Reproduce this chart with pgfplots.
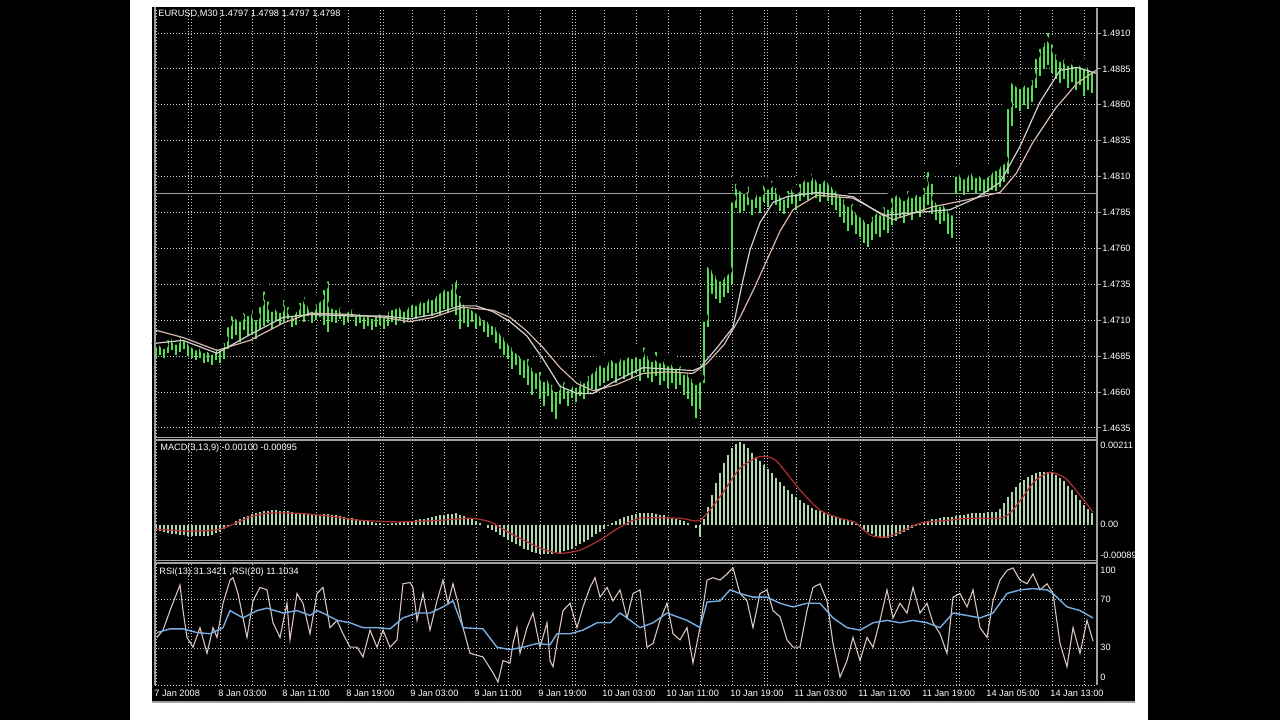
\documentclass[border=0pt]{standalone}
\usepackage{pgfplots}
\pgfplotsset{compat=1.18}
\usepackage{pgfplotstable}
\usepackage{fontspec}
\setmainfont{Liberation Sans}
\definecolor{barc}{HTML}{52E052}
\definecolor{mafast}{HTML}{D0D0D0}
\definecolor{maslow}{HTML}{D8B8A8}
\definecolor{histc}{HTML}{B0D8B0}
\definecolor{sigc}{HTML}{B03030}
\definecolor{rsic}{HTML}{D8C4BC}
\definecolor{rsib}{HTML}{78AEE6}
\definecolor{gridc}{HTML}{C8C8C8}
\definecolor{borderc}{HTML}{A0A0A0}

\pgfplotstableread{
i l h
0 1.4683 1.4694
1 1.4686 1.4697
2 1.4684 1.4693
3 1.4687 1.4699
4 1.4689 1.4700
5 1.4686 1.4696
6 1.4688 1.4702
7 1.4690 1.4699
8 1.4685 1.4697
9 1.4684 1.4694
10 1.4682 1.4692
11 1.4684 1.4695
12 1.4680 1.4690
13 1.4681 1.4691
14 1.4679 1.4689
15 1.4682 1.4693
16 1.4680 1.4692
17 1.4683 1.4697
18 1.4690 1.4708
19 1.4697 1.4716
20 1.4700 1.4714
21 1.4695 1.4712
22 1.4703 1.4718
23 1.4699 1.4716
24 1.4701 1.4720
25 1.4697 1.4713
26 1.4704 1.4722
27 1.4706 1.4733
28 1.4708 1.4726
29 1.4704 1.4719
30 1.4710 1.4722
31 1.4707 1.4718
32 1.4709 1.4727
33 1.4711 1.4722
34 1.4705 1.4716
35 1.4707 1.4719
36 1.4712 1.4725
37 1.4709 1.4729
38 1.4713 1.4723
39 1.4708 1.4719
40 1.4710 1.4724
41 1.4712 1.4726
42 1.4707 1.4734
43 1.4702 1.4740
44 1.4709 1.4721
45 1.4708 1.4720
46 1.4711 1.4722
47 1.4707 1.4717
48 1.4709 1.4719
49 1.4712 1.4721
50 1.4706 1.4716
51 1.4708 1.4718
52 1.4704 1.4715
53 1.4706 1.4717
54 1.4703 1.4714
55 1.4705 1.4716
56 1.4707 1.4718
57 1.4704 1.4715
58 1.4706 1.4719
59 1.4709 1.4720
60 1.4707 1.4721
61 1.4710 1.4722
62 1.4708 1.4719
63 1.4710 1.4722
64 1.4712 1.4724
65 1.4711 1.4723
66 1.4714 1.4726
67 1.4712 1.4725
68 1.4715 1.4728
69 1.4713 1.4727
70 1.4716 1.4730
71 1.4714 1.4732
72 1.4718 1.4735
73 1.4716 1.4733
74 1.4719 1.4738
75 1.4714 1.4741
76 1.4704 1.4730
77 1.4708 1.4724
78 1.4705 1.4721
79 1.4709 1.4720
80 1.4704 1.4718
81 1.4706 1.4716
82 1.4702 1.4713
83 1.4698 1.4712
84 1.4700 1.4709
85 1.4694 1.4708
86 1.4690 1.4704
87 1.4686 1.4701
88 1.4683 1.4697
89 1.4676 1.4694
90 1.4679 1.4690
91 1.4672 1.4688
92 1.4670 1.4685
93 1.4665 1.4686
94 1.4658 1.4680
95 1.4662 1.4676
96 1.4655 1.4677
97 1.4650 1.4670
98 1.4657 1.4672
99 1.4646 1.4668
100 1.4641 1.4663
101 1.4652 1.4668
102 1.4655 1.4670
103 1.4650 1.4664
104 1.4656 1.4668
105 1.4653 1.4666
106 1.4657 1.4671
107 1.4655 1.4669
108 1.4659 1.4674
109 1.4662 1.4676
110 1.4660 1.4680
111 1.4664 1.4683
112 1.4666 1.4680
113 1.4668 1.4684
114 1.4670 1.4686
115 1.4666 1.4683
116 1.4671 1.4687
117 1.4669 1.4685
118 1.4672 1.4689
119 1.4670 1.4686
120 1.4673 1.4690
121 1.4668 1.4686
122 1.4674 1.4694
123 1.4670 1.4688
124 1.4667 1.4684
125 1.4671 1.4691
126 1.4665 1.4683
127 1.4668 1.4686
128 1.4663 1.4681
129 1.4666 1.4684
130 1.4662 1.4679
131 1.4665 1.4681
132 1.4658 1.4675
133 1.4655 1.4676
134 1.4650 1.4672
135 1.4642 1.4668
136 1.4648 1.4670
137 1.4666 1.4712
138 1.4705 1.4750
139 1.4728 1.4748
140 1.4725 1.4744
141 1.4722 1.4740
142 1.4726 1.4743
143 1.4729 1.4745
144 1.4735 1.4795
145 1.4788 1.4808
146 1.4785 1.4803
147 1.4786 1.4801
148 1.4790 1.4806
149 1.4783 1.4797
150 1.4788 1.4802
151 1.4785 1.4799
152 1.4792 1.4807
153 1.4789 1.4804
154 1.4794 1.4810
155 1.4790 1.4805
156 1.4786 1.4800
157 1.4784 1.4797
158 1.4788 1.4803
159 1.4791 1.4806
160 1.4787 1.4801
161 1.4793 1.4808
162 1.4796 1.4813
163 1.4794 1.4809
164 1.4797 1.4815
165 1.4795 1.4811
166 1.4792 1.4808
167 1.4796 1.4812
168 1.4793 1.4809
169 1.4790 1.4806
170 1.4787 1.4803
171 1.4782 1.4800
172 1.4778 1.4797
173 1.4772 1.4792
174 1.4776 1.4794
175 1.4770 1.4788
176 1.4768 1.4785
177 1.4764 1.4783
178 1.4761 1.4780
179 1.4766 1.4785
180 1.4770 1.4789
181 1.4768 1.4786
182 1.4773 1.4792
183 1.4771 1.4790
184 1.4776 1.4798
185 1.4779 1.4800
186 1.4781 1.4799
187 1.4778 1.4796
188 1.4783 1.4803
189 1.4780 1.4798
190 1.4785 1.4802
191 1.4782 1.4799
192 1.4786 1.4805
193 1.4790 1.4816
194 1.4784 1.4808
195 1.4780 1.4795
196 1.4777 1.4792
197 1.4779 1.4794
198 1.4770 1.4790
199 1.4767 1.4786
200 1.4798 1.4813
201 1.4800 1.4815
202 1.4797 1.4811
203 1.4799 1.4814
204 1.4801 1.4816
205 1.4798 1.4812
206 1.4800 1.4814
207 1.4797 1.4811
208 1.4799 1.4813
209 1.4801 1.4816
210 1.4800 1.4817
211 1.4803 1.4820
212 1.4806 1.4822
213 1.4812 1.4860
214 1.4845 1.4878
215 1.4858 1.4876
216 1.4856 1.4874
217 1.4860 1.4879
218 1.4857 1.4875
219 1.4862 1.4880
220 1.4872 1.4895
221 1.4880 1.4902
222 1.4885 1.4906
223 1.4888 1.4913
224 1.4882 1.4905
225 1.4878 1.4898
226 1.4875 1.4893
227 1.4878 1.4895
228 1.4872 1.4890
229 1.4876 1.4894
230 1.4870 1.4889
231 1.4874 1.4893
232 1.4866 1.4888
233 1.4870 1.4890
234 1.4868 1.4886
}\bars

\pgfplotstableread{
i p
0 1.4694
6.75 1.4696
15.25 1.4687
23.5 1.4700
31.75 1.4712
38.5 1.4714
48.5 1.4713
56.75 1.4713
63.5 1.4711
69.25 1.4714
76 1.4720
80 1.4720
84.25 1.4716
88.5 1.4709
92.75 1.4699
96.75 1.4683
101 1.4664
105.25 1.4659
109.25 1.4659
115 1.4668
121.75 1.4677
128 1.4676
134.25 1.4675
136 1.4677
140 1.4690
144.25 1.4705
146.5 1.4735
148.5 1.4759
151 1.4778
154.25 1.4792
157.75 1.4796
165.25 1.4799
174.25 1.4796
181.75 1.4783
190.25 1.4785
198.5 1.4787
205 1.4795
211 1.4806
216 1.4831
221 1.4862
226 1.4884
230.25 1.4886
235 1.4882
}\mafasttab

\pgfplotstableread{
i p
0 1.4703
6.75 1.4698
15.25 1.4689
23.5 1.4696
31.75 1.4708
38.5 1.4715
48.5 1.4714
56.75 1.4712
63.5 1.4709
69.25 1.4712
76.75 1.4719
84.25 1.4717
88.5 1.4712
92.5 1.4703
96.75 1.4691
101 1.4677
105.25 1.4666
109.25 1.4661
115 1.4665
121.75 1.4673
128 1.4674
134.25 1.4673
137.75 1.4680
142 1.4693
146 1.4712
149.5 1.4732
152.75 1.4752
156 1.4772
159.25 1.4787
165.25 1.4797
174.25 1.4795
184.25 1.4780
194.25 1.4789
203 1.4794
211 1.4799
215 1.4812
219.25 1.4834
225 1.4858
230.25 1.4875
235 1.4884
}\maslowtab

\pgfplotstableread{
i m
0 -0.00012
1 -0.00015
2 -0.00018
3 -0.00020
4 -0.00022
5 -0.00023
6 -0.00024
7 -0.00025
8 -0.00026
9 -0.00026
10 -0.00027
11 -0.00027
12 -0.00028
13 -0.00026
14 -0.00024
15 -0.00020
16 -0.00016
17 -0.00010
18 -0.00004
19 0.00003
20 0.00009
21 0.00014
22 0.00019
23 0.00023
24 0.00027
25 0.00030
26 0.00033
27 0.00035
28 0.00036
29 0.00037
30 0.00037
31 0.00036
32 0.00035
33 0.00034
34 0.00032
35 0.00030
36 0.00029
37 0.00028
38 0.00028
39 0.00027
40 0.00026
41 0.00026
42 0.00027
43 0.00028
44 0.00026
45 0.00024
46 0.00022
47 0.00020
48 0.00018
49 0.00017
50 0.00015
51 0.00013
52 0.00011
53 0.00009
54 0.00007
55 0.00006
56 0.00005
57 0.00004
58 0.00004
59 0.00005
60 0.00006
61 0.00007
62 0.00008
63 0.00009
64 0.00010
65 0.00012
66 0.00014
67 0.00016
68 0.00018
69 0.00020
70 0.00022
71 0.00024
72 0.00026
73 0.00027
74 0.00028
75 0.00029
76 0.00026
77 0.00022
78 0.00018
79 0.00014
80 0.00010
81 0.00005
82 0.00000
83 -0.00006
84 -0.00012
85 -0.00018
86 -0.00024
87 -0.00030
88 -0.00036
89 -0.00042
90 -0.00048
91 -0.00053
92 -0.00058
93 -0.00062
94 -0.00066
95 -0.00069
96 -0.00071
97 -0.00072
98 -0.00072
99 -0.00071
100 -0.00070
101 -0.00068
102 -0.00065
103 -0.00062
104 -0.00058
105 -0.00053
106 -0.00048
107 -0.00042
108 -0.00036
109 -0.00030
110 -0.00023
111 -0.00016
112 -0.00009
113 -0.00002
114 0.00005
115 0.00010
116 0.00015
117 0.00019
118 0.00023
119 0.00026
120 0.00028
121 0.00030
122 0.00031
123 0.00031
124 0.00030
125 0.00028
126 0.00026
127 0.00024
128 0.00021
129 0.00018
130 0.00015
131 0.00012
132 0.00009
133 0.00005
134 0.00000
135 -0.00008
136 -0.00030
137 0.00015
138 0.00045
139 0.00075
140 0.00105
141 0.00130
142 0.00155
143 0.00175
144 0.00190
145 0.00200
146 0.00205
147 0.00200
148 0.00190
149 0.00180
150 0.00170
151 0.00160
152 0.00150
153 0.00138
154 0.00128
155 0.00118
156 0.00108
157 0.00098
158 0.00088
159 0.00078
160 0.00070
161 0.00062
162 0.00055
163 0.00049
164 0.00043
165 0.00038
166 0.00034
167 0.00030
168 0.00027
169 0.00024
170 0.00021
171 0.00018
172 0.00015
173 0.00012
174 0.00008
175 0.00003
176 -0.00005
177 -0.00012
178 -0.00018
179 -0.00023
180 -0.00027
181 -0.00030
182 -0.00031
183 -0.00031
184 -0.00029
185 -0.00026
186 -0.00022
187 -0.00017
188 -0.00012
189 -0.00007
190 -0.00003
191 0.00002
192 0.00006
193 0.00010
194 0.00014
195 0.00016
196 0.00018
197 0.00019
198 0.00019
199 0.00020
200 0.00022
201 0.00024
202 0.00026
203 0.00028
204 0.00029
205 0.00030
206 0.00031
207 0.00031
208 0.00032
209 0.00032
210 0.00033
211 0.00040
212 0.00055
213 0.00070
214 0.00083
215 0.00095
216 0.00105
217 0.00113
218 0.00120
219 0.00125
220 0.00129
221 0.00131
222 0.00132
223 0.00132
224 0.00130
225 0.00125
226 0.00118
227 0.00109
228 0.00098
229 0.00086
230 0.00074
231 0.00062
232 0.00050
233 0.00039
234 0.00030
}\hist

\pgfplotstableread{
i s
0 -0.00010
8 -0.00015
16 -0.00010
23.5 0.00020
28.5 0.00030
36 0.00029
43.5 0.00022
51 0.00012
61 0.00008
71 0.00012
78.5 0.00017
83.5 0.00008
88.5 -0.00020
96 -0.00057
101 -0.00070
106 -0.00062
111 -0.00037
116 -0.00005
121 0.00017
131 0.00017
136 0.00012
141 0.00070
146 0.00141
151 0.00170
155 0.00160
161 0.00087
166 0.00037
171 0.00017
174.75 0.00007
178.5 -0.00025
182.25 -0.00030
186 -0.00017
191 0.00005
196 0.00010
203.5 0.00017
211 0.00017
213.5 0.00030
216 0.00060
219.75 0.00110
223.5 0.00131
227.25 0.00117
231 0.00074
234.25 0.00032
}\signal

\pgfplotstableread{
i r
0.25 39
1.75 45
3.5 61
6 82
6.75 61
7.75 39
9.25 31
11 47
12.75 26
14.25 47
15.25 39
16.75 67
18.5 86
19.25 88
20.5 75
21.75 55
22.75 39
24.25 69
26 80
27.75 78
29.25 51
31 39
32.75 67
33.5 37
35.25 75
36.75 67
38.5 42
40.25 75
41.75 80
43.5 47
45.25 53
46.75 42
48.5 31
50.25 31
51.75 23
53.5 45
55.25 31
56.75 45
58.5 31
60.25 37
61.75 83
63.5 84
64.25 80
65.25 53
66.75 75
68.5 45
70.25 69
71.75 86
73 67
74.25 83
75.5 67
76.75 47
78.5 26
81.75 23
84.25 10
85.5 2.4
86.75 20
88.5 18
89.25 34
90.25 47
91 26
92.75 47
94.25 59
96 31
97.75 51
98.5 20
99.25 15
100.25 34
101.75 61
103.5 67
105.25 47
106.75 64
108.5 80
109.75 88
111 72
112.75 80
114.25 69
116 78
117.75 55
119.25 75
121 78
122.75 31
124.25 34
126 53
127.75 67
129.25 42
131 37
132.75 47
134.25 18
136 47
137.75 86
139.25 88
141 86
142.75 91
144.25 96
146 75
147.75 69
149.25 47
151 75
152.75 78
154.25 61
156 56
157.75 37
159.25 31
161 31
162.75 61
164.25 80
166 83
167.75 69
169.25 34
171 6.5
172.75 20
174.25 39
176 20
177.75 39
179.25 31
181 53
182.75 78
184.25 55
186 67
187.75 59
189.25 80
191 59
192.75 67
194.25 51
196 42
197.75 26
199.25 72
201 75
202.75 64
204.25 78
206 47
207.75 39
209.25 69
211 86
212.75 94
214.25 96
216 86
217.75 83
219.25 91
221 78
222.75 83
224.25 75
226 34
227.75 15
229.25 47
231 26
232.75 53
234.25 36
}\rsione

\pgfplotstableread{
i r
0.25 43
3.5 46
6.75 46
10.25 43
13.5 42
16.75 47
18.5 61
21.75 55
25.25 61
27.75 63
31.75 59
35.25 61
38.5 57
40.25 61
41.75 59
45.25 53
48.5 51
51.75 47
55.25 47
58.5 46
61.75 55
65.25 59
68.5 59
71.75 64
74.25 69
76.75 47
81.75 46
85.25 31
88.5 29
91.75 31
95.25 34
98.5 33
100.25 42
103.5 42
106.75 45
110.25 51
113.5 51
116 59
117.75 55
121 47
124.25 51
127.75 59
132.75 53
136 47
137.75 68
141 69
143.5 78
146 75
149.25 72
152.75 72
156 67
159.25 64
162.75 67
166 67
169.25 55
172.75 47
176 45
179.25 51
182.75 53
186 51
189.25 53
192.75 51
196 47
199.25 59
202.75 57
206 55
209.25 59
212.75 75
216 78
219.25 79
222.75 78
224.25 75
227.75 64
231 61
234.25 55
}\rsitwo

\pgfplotsset{
  chartbase/.style={
    scale only axis, width=471pt, anchor=north west,
    xmin=-0.25, xmax=235.25,
    axis line style={draw=none},
    xtick={0,8,...,232},
    extra x ticks={8.75,56.75,104.75,152.75,200.75},
    extra x tick labels={},
    extra x tick style={xmajorgrids=true, xtick style={draw=none}},
    xmajorgrids=true,
    xtick style={draw=none},
    major grid style={draw=gridc, line width=0.5pt, dash pattern=on 0.5pt off 1pt},
    tick label style={text=white, font=\fontsize{4.6}{5.5}\selectfont, inner sep=0pt},
    /pgf/number format/assume math mode=true,
    clip=true,
  },
  pricebase/.style={
    scale only axis, width=471pt, anchor=north west, at={(mainNW)}, height=214.5pt,
    xmin=-0.25, xmax=235.25, ymin=1.46287, ymax=1.49274,
  },
}

\begin{document}
\begin{tikzpicture}
\begin{scope}[x=0.5pt,y=-0.5pt]
  \fill[black] (0,0) rectangle (1280,720);
  \fill[white] (130,0) rectangle (1148,720);
  \fill[black] (152,7) rectangle (1135,702);
  \coordinate (mainNW) at (155,8);
  \coordinate (macdNW) at (155,440);
  \coordinate (rsiNW) at (155,563);
\end{scope}

% ---- price panel: grid, ticks, bars
\begin{axis}[chartbase, pricebase,
  xticklabels={},
  ytick={1.4635,1.4660,1.4685,1.4710,1.4735,1.4760,1.4785,1.4810,1.4835,1.4860,1.4885,1.4910},
  ymajorgrids=true,
  ytick pos=right, yticklabel pos=right,
  ytick style={draw=borderc, line width=0.5pt},
  tick align=outside, major tick length=2pt,
  yticklabel style={/pgf/number format/.cd, fixed, fixed zerofill, precision=4, /tikz/.cd, anchor=west, xshift=0.5pt},
  scaled y ticks=false,
]
\addplot[draw=borderc, line width=0.6pt] coordinates {(-0.25,1.4798) (235.25,1.4798)};
\addplot[only marks, mark=none,
  error bars/.cd, y dir=minus, y explicit,
  error mark=none,
  error bar style={draw=barc, line width=0.95pt}]
  table[x=i, y=h, y error minus expr=\thisrow{h}-\thisrow{l}] {\bars};
\node[anchor=west, fill=white, text=black, inner sep=0.6pt,
  font=\fontsize{4.4}{5}\selectfont] at (axis cs:236.2,1.4798) {1.4798};
\end{axis}

% ---- price panel overlay: moving averages on top of the bars
\begin{axis}[pricebase, axis lines=none, ticks=none]
\addplot[maslow, line width=0.6pt, solid] table[x=i, y=p] {\maslowtab};
\addplot[mafast, line width=0.6pt, solid] table[x=i, y=p] {\mafasttab};
\end{axis}

% ---- MACD panel
\begin{axis}[chartbase, at={(macdNW)}, height=60.5pt,
  ymin=-0.00089, ymax=0.00211,
  xticklabels={}, ytick=\empty, scaled y ticks=false,
]
\addplot[ycomb, histc, line width=0.6pt, mark=none] table[x=i, y=m] {\hist};
\addplot[sigc, line width=0.6pt, smooth, tension=0.4] table[x=i, y=s] {\signal};
\end{axis}

% ---- RSI panel
\begin{axis}[chartbase, at={(rsiNW)}, height=61pt,
  ymin=0, ymax=100,
  ytick={30,70}, yticklabels={}, ymajorgrids=true,
  ytick style={draw=none},
  xticklabels={7 Jan 2008,,8 Jan 03:00,,8 Jan 11:00,,8 Jan 19:00,,9 Jan 03:00,,9 Jan 11:00,,9 Jan 19:00,,10 Jan 03:00,,10 Jan 11:00,,10 Jan 19:00,,11 Jan 03:00,,11 Jan 11:00,,11 Jan 19:00,,14 Jan 05:00,,14 Jan 13:00,},
  xticklabel style={anchor=north west, xshift=-1pt, yshift=-2.2pt},
]
\addplot[rsic, line width=0.55pt] table[x=i, y=r] {\rsione};
\addplot[rsib, line width=0.7pt] table[x=i, y=r] {\rsitwo};
\end{axis}

\begin{scope}[x=0.5pt,y=-0.5pt, lbl/.style={text=white, inner sep=0pt, anchor=west, font=\fontsize{4.6}{5.5}\selectfont}]
  \draw[borderc, line width=0.8pt] (155,7) -- (155,685);
  \draw[borderc, line width=0.6pt] (1097,8) -- (1097,685);
  \draw[borderc, line width=0.8pt] (155,437.5) -- (1097,437.5);
  \draw[borderc, line width=0.6pt] (155,440) -- (1097,440);
  \draw[borderc, line width=0.8pt] (155,560.5) -- (1097,560.5);
  \draw[borderc, line width=0.6pt] (155,563) -- (1097,563);
  \draw[gridc, line width=0.5pt, dash pattern=on 0.5pt off 1pt] (155,685) -- (1097,685);
  \draw[borderc, line width=0.8pt] (152,702) -- (1135,702);
  \node[lbl] at (158,14) {EURUSD,M30 1.4797 1.4798 1.4797 1.4798};
  \node[lbl] at (160,448) {MACD(3,13,9) -0.00100 -0.00095};
  \node[lbl] at (159,572) {RSI(13) 31.3421 ,RSI(20) 11.1034};
  \node[lbl] at (1100,445) {0.00211};
  \node[lbl] at (1100,524) {0.00};
  \node[lbl] at (1100,555) {-0.00089};
  \node[lbl] at (1100,570) {100};
  \node[lbl] at (1100,599) {70};
  \node[lbl] at (1100,647) {30};
  \node[lbl] at (1100,677) {0};
  \fill[white] (1135,0) rectangle (1148,720);
  \fill[white] (130,0) rectangle (1148,7);
  \fill[white] (130,702.5) rectangle (1148,720);
\end{scope}
\end{tikzpicture}
\end{document}
